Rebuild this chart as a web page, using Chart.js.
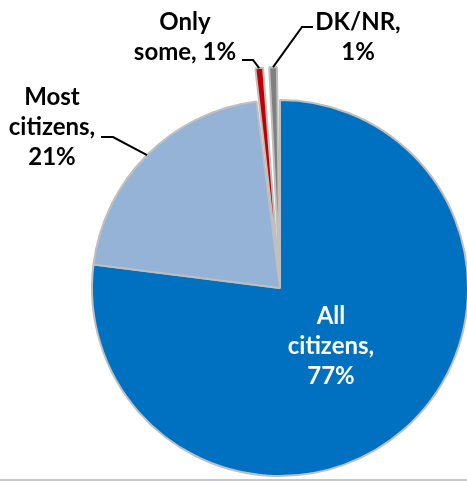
<!DOCTYPE html>
<html>
<head>
<meta charset="utf-8">
<script src="https://cdn.jsdelivr.net/npm/chart.js@4.4.0/dist/chart.umd.min.js"></script>
<style>
  html, body { margin: 0; padding: 0; background: #fff; }
  #frame { position: relative; width: 467px; height: 479px; overflow: hidden; border-bottom: 2px solid #c8c8c8; }
  #pie { position: absolute; left: 0; top: 0; }
</style>
</head>
<body>
<div id="frame"><canvas id="pie" width="560" height="576"></canvas></div>
<script>
const categories = ['All citizens', 'Most citizens', 'Only some', 'DK/NR'];
const shares = [77, 21, 1, 1];
const sliceColors = ['#0070C0', '#95B3D7', '#C00000', '#808080'];
const sliceOffsets = [0, 0, 68, 68];

// label placement: the big slice gets its label inside, the others
// sit outside with an elbowed leader line back to the slice
const labelLayout = [
  { inside: true, radial: 0.41, color: '#fff' },
  { x: 52, y: 97, from: [101, 137], elbow: [113, 137], color: '#000' },
  { x: 185, y: 22, from: [242, 60], elbow: [253, 60], color: '#000' },
  { x: 358, y: 22, from: [313, 27], elbow: [302, 27], color: '#000' },
];
const labelFont = 'bold 24px Lato';
const lineHeight = 30;
const wrapWidth = 110;

function wrapText(ctx, text, maxWidth) {
  const words = text.split(' ');
  const lines = [];
  let cur = '';
  words.forEach(w => {
    const test = cur ? cur + ' ' + w : w;
    if (cur && ctx.measureText(test).width > maxWidth) {
      lines.push(cur);
      cur = w;
    } else {
      cur = test;
    }
  });
  if (cur) lines.push(cur);
  return lines;
}

const sliceLabels = {
  id: 'sliceLabels',
  afterDatasetsDraw(chart) {
    const ctx = chart.ctx;
    const arcs = chart.getDatasetMeta(0).data;
    ctx.save();
    ctx.font = labelFont;
    ctx.textAlign = 'center';
    ctx.textBaseline = 'middle';
    arcs.forEach((arc, i) => {
      const lay = labelLayout[i];
      const { x, y, startAngle, endAngle, outerRadius } =
        arc.getProps(['x', 'y', 'startAngle', 'endAngle', 'outerRadius'], true);
      const mid = (startAngle + endAngle) / 2;
      const lines = wrapText(ctx, categories[i] + ', ' + shares[i] + '%', wrapWidth);
      let tx, ty;
      if (lay.inside) {
        tx = x + Math.cos(mid) * outerRadius * lay.radial;
        ty = y + Math.sin(mid) * outerRadius * lay.radial - (lines.length - 1) * lineHeight / 2;
      } else {
        // same geometry the arc element uses for an offset slice
        const off = (arc.options.offset || 0) / 4;
        const fix = 1 - Math.sin(Math.min(Math.PI, endAngle - startAngle));
        const cx = x + Math.cos(mid) * off;
        const cy = y + Math.sin(mid) * off;
        const r = outerRadius + off * fix;
        ctx.beginPath();
        ctx.moveTo(lay.from[0], lay.from[1]);
        ctx.lineTo(lay.elbow[0], lay.elbow[1]);
        ctx.lineTo(cx + Math.cos(mid) * r, cy + Math.sin(mid) * r);
        ctx.strokeStyle = '#000';
        ctx.lineWidth = 2;
        ctx.stroke();
        tx = lay.x;
        ty = lay.y;
      }
      ctx.fillStyle = lay.color;
      lines.forEach((ln, k) => ctx.fillText(ln, tx, ty + k * lineHeight));
    });
    ctx.restore();
  }
};

new Chart(document.getElementById('pie'), {
  type: 'pie',
  data: {
    labels: categories,
    datasets: [{
      data: shares,
      backgroundColor: sliceColors,
      borderColor: '#BFBFBF',
      borderWidth: 2,
      offset: sliceOffsets,
      radius: 188
    }]
  },
  options: {
    responsive: false,
    animation: false,
    layout: { padding: 0 },
    plugins: {
      legend: { display: false },
      tooltip: { enabled: false }
    }
  },
  plugins: [sliceLabels]
});
</script>
</body>
</html>
